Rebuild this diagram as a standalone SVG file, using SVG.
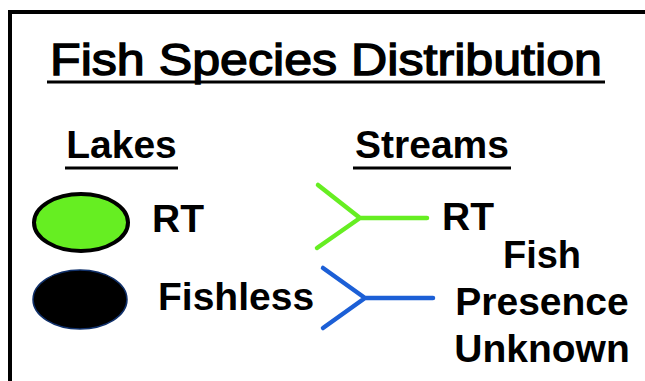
<svg xmlns="http://www.w3.org/2000/svg" width="645" height="381" viewBox="0 0 645 381">
  <style>
    text { font-family: "Liberation Sans", Arial, sans-serif; font-weight: bold; fill: #000; }
    .title { font-weight: normal; stroke: #000; stroke-width: 1.4; }
    .ul { stroke: #000; stroke-width: 3; }
    .stream { fill: none; stroke-width: 4.5; stroke-linecap: round; stroke-linejoin: round; }
  </style>
  <rect width="645" height="381" fill="#fff"/>
  <path d="M10,381 V12 H647" fill="none" stroke="#000" stroke-width="4"/>

  <g id="title">
    <text class="title" x="50" y="75" font-size="45" textLength="552" lengthAdjust="spacingAndGlyphs">Fish Species Distribution</text>
    <line class="ul" x1="47" y1="82" x2="605" y2="82"/>
  </g>

  <g id="lakes-header">
    <text x="121.5" y="158" font-size="39" text-anchor="middle">Lakes</text>
    <line class="ul" x1="65" y1="168" x2="178" y2="168"/>
  </g>

  <g id="streams-header">
    <text x="432" y="158" font-size="39" text-anchor="middle">Streams</text>
    <line class="ul" x1="353" y1="168" x2="511" y2="168"/>
  </g>

  <g id="lake-rt">
    <ellipse cx="81" cy="222.5" rx="47" ry="28.5" fill="#66ee22" stroke="#000" stroke-width="4"/>
    <text x="152" y="232" font-size="39">RT</text>
  </g>

  <g id="lake-fishless">
    <ellipse cx="80" cy="299.5" rx="47" ry="29.5" fill="#000" stroke="#10306a" stroke-width="1.5"/>
    <text x="158" y="310" font-size="39">Fishless</text>
  </g>

  <g id="connectors">
    <path id="stream-rt-symbol" class="stream" stroke="#66ee22" d="M318,185 L360,218 L317,248 M360,218 H427"/>
    <path id="stream-unknown-symbol" class="stream" stroke="#1c5fd6" d="M323,268 L365,298 L323,328 M365,298 H433"/>
  </g>

  <g id="stream-rt">
    <text x="442" y="230" font-size="39">RT</text>
  </g>

  <g id="stream-unknown">
    <text x="542" y="268" font-size="38" text-anchor="middle">Fish</text>
    <text x="542" y="315" font-size="39" text-anchor="middle">Presence</text>
    <text x="542" y="362" font-size="39" text-anchor="middle">Unknown</text>
  </g>
</svg>
